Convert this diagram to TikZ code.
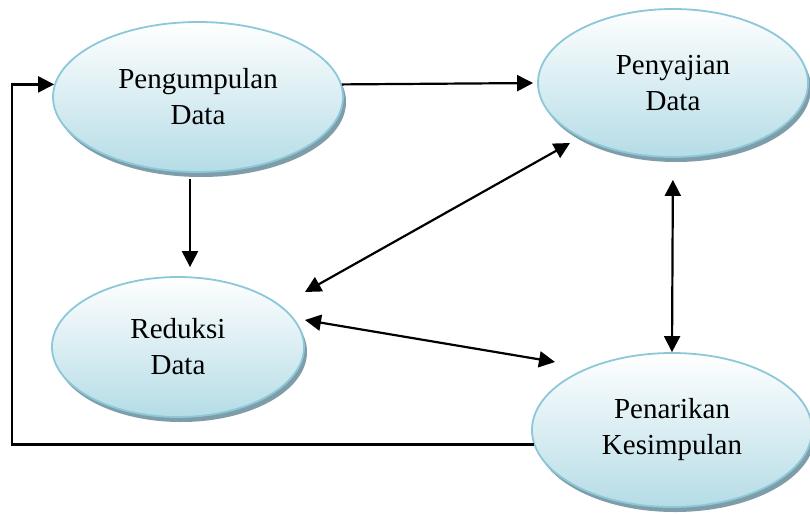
\documentclass[tikz,border=0pt]{standalone}
\usepackage{fontspec}
\setmainfont{Liberation Serif}
\usepackage{xcolor}
\usetikzlibrary{arrows.meta,shapes.geometric,shadows}
\definecolor{blu}{RGB}{181,220,230}
\definecolor{rim}{RGB}{140,200,218}
\definecolor{shd}{RGB}{105,140,155}

\begin{document}
\begin{tikzpicture}[x=1pt,y=-1pt, every node/.style={font=\fontsize{29}{36}\selectfont}, proc/.style={ellipse,draw=rim,line width=1.8pt,top color=white,bottom color=blu,align=center,inner sep=0pt,drop shadow={shadow xshift=3pt,shadow yshift=-5pt,fill=shd,opacity=0.85}}, arr/.style={line width=2.2pt,-{Triangle[length=16pt,width=16pt]}}, darr/.style={line width=2.2pt,{Triangle[length=16pt,width=16pt]}-{Triangle[length=16pt,width=16pt]}}]
\useasboundingbox[fill=white] (0,0) rectangle (810,514);
\node[proc,minimum width=290pt,minimum height=150pt] (peng) at (198,97) {Pengumpulan\\Data};
\node[proc,minimum width=270pt,minimum height=148pt] (peny) at (673,83) {Penyajian\\Data};
\node[proc,minimum width=252pt,minimum height=140pt] (redu) at (178,347) {Reduksi\\Data};
\node[proc,minimum width=280pt,minimum height=154pt] (pena) at (672,430) {Penarikan\\Kesimpulan};
\coordinate (fb) at (12,0);
\draw[arr] (pena.186) -- (pena.186 -| fb) |- (peng.175);
\draw[arr,shorten <=6pt,shorten >=9pt] ([xshift=-8pt]peng.south) -- ([xshift=-8pt]peng.south |- redu.north);
\draw[arr,shorten >=4pt] (peng.5) -- (peny.180);
\draw[darr] ([shift={(127,-55)}]redu.center) -- ([shift={(-103,60)}]peny.center);
\draw[darr] ([shift={(127,-27)}]redu.center) -- ([shift={(-117,-68)}]pena.center);
\draw[darr,shorten <=22pt] (peny.south) -- (pena.north);
\end{tikzpicture}
\end{document}
